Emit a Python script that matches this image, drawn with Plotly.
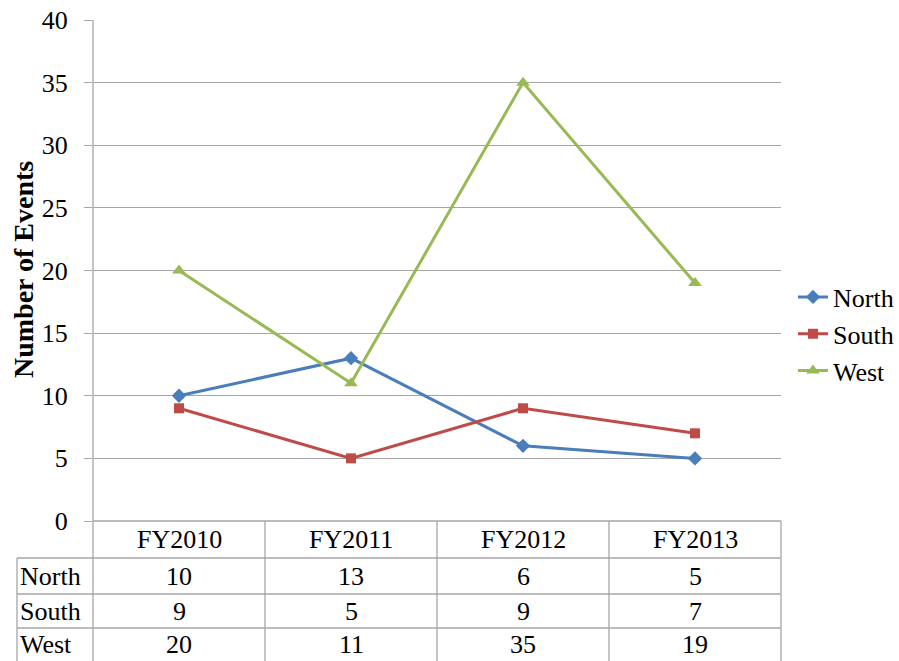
import plotly.graph_objects as go

# Fiscal years and event counts per region
years = ["FY2010", "FY2011", "FY2012", "FY2013"]
north = [10, 13, 6, 5]
south = [9, 5, 9, 7]
west = [20, 11, 35, 19]

series = [
    ("North", north, "#4A7EBB", "diamond", 11),
    ("South", south, "#BE4B48", "square", 10),
    ("West", west, "#98B954", "triangle-up", 12),
]

W, H = 899, 661
L, R, T, B = 93, 781, 20, 521  # plot area in pixels
FONT = "Liberation Serif"
FS = 26
GRID = "#A6A6A6"

fig = go.Figure()
for name, vals, color, sym, msize in series:
    fig.add_trace(go.Scatter(
        x=years, y=vals, name=name, mode="lines+markers",
        line=dict(color=color, width=3),
        marker=dict(symbol=sym, size=msize, color=color),
    ))


def px_x(x):
    return x / W


def px_y(y):
    return 1 - y / H


# Data table below the plot: row boundaries in pixels
row_edges = [521, 558, 594, 628, 661]
col_edges = [L + (R - L) * i / len(years) for i in range(len(years) + 1)]
left_col = 17

shapes = []
line_style = dict(color=GRID, width=1.3)
# horizontal lines of the table
shapes.append(dict(type="line", xref="paper", yref="paper",
                   x0=px_x(L), x1=px_x(R), y0=px_y(row_edges[0]), y1=px_y(row_edges[0]),
                   line=line_style))
for y in row_edges[1:4]:
    shapes.append(dict(type="line", xref="paper", yref="paper",
                       x0=px_x(left_col), x1=px_x(R), y0=px_y(y), y1=px_y(y),
                       line=line_style))
# vertical lines of the table
for x in col_edges[1:]:
    shapes.append(dict(type="line", xref="paper", yref="paper",
                       x0=px_x(x), x1=px_x(x), y0=px_y(row_edges[0]), y1=0,
                       line=line_style))
shapes.append(dict(type="line", xref="paper", yref="paper",
                   x0=px_x(L), x1=px_x(L), y0=px_y(T), y1=0, line=line_style))
shapes.append(dict(type="line", xref="paper", yref="paper",
                   x0=px_x(left_col), x1=px_x(left_col), y0=px_y(row_edges[1]), y1=0,
                   line=line_style))

annotations = []
font = dict(family=FONT, size=FS, color="black")
# header row with the years
for i, yr in enumerate(years):
    cx = (col_edges[i] + col_edges[i + 1]) / 2
    cy = (row_edges[0] + row_edges[1]) / 2
    annotations.append(dict(text=yr, x=px_x(cx), y=px_y(cy), xref="paper", yref="paper",
                            showarrow=False, font=font, xanchor="center", yanchor="middle"))
# one row per region
for r, (name, vals, *_rest) in enumerate(series):
    cy = (row_edges[r + 1] + row_edges[r + 2]) / 2
    annotations.append(dict(text=name, x=px_x(left_col + 1), y=px_y(cy), xref="paper", yref="paper",
                            showarrow=False, font=font, xanchor="left", yanchor="middle"))
    for i, v in enumerate(vals):
        cx = (col_edges[i] + col_edges[i + 1]) / 2
        annotations.append(dict(text=str(v), x=px_x(cx), y=px_y(cy), xref="paper", yref="paper",
                                showarrow=False, font=font, xanchor="center", yanchor="middle"))

# y-axis title
annotations.append(dict(text="<b>Number of Events</b>", x=px_x(23), y=px_y(270),
                        xref="paper", yref="paper", showarrow=False, textangle=-90,
                        font=dict(family=FONT, size=28, color="black"),
                        xanchor="center", yanchor="middle"))

fig.update_layout(
    width=W, height=H,
    margin=dict(l=0, r=0, t=0, b=0, pad=0, autoexpand=False),
    paper_bgcolor="white", plot_bgcolor="white",
    font=font,
    xaxis=dict(domain=[L / W, R / W], range=[-0.5, 3.5], showticklabels=False,
               showgrid=False, zeroline=False, showline=False, ticks=""),
    yaxis=dict(domain=[1 - B / H, 1 - T / H], range=[0, 40], dtick=5,
               showgrid=True, gridcolor=GRID, gridwidth=1.3,
               zeroline=False, showline=False, ticks="outside", ticklen=8,
               tickcolor=GRID, tickwidth=1.3, tickfont=dict(family=FONT, size=FS),
               ticklabelstandoff=11),
    legend=dict(x=px_x(793), y=px_y(334),
                xanchor="left", yanchor="middle", font=dict(family=FONT, size=FS),
                bgcolor="rgba(0,0,0,0)", tracegroupgap=0, itemwidth=30),
    shapes=shapes,
    annotations=annotations,
    showlegend=True,
)

fig.write_html("out.html")
